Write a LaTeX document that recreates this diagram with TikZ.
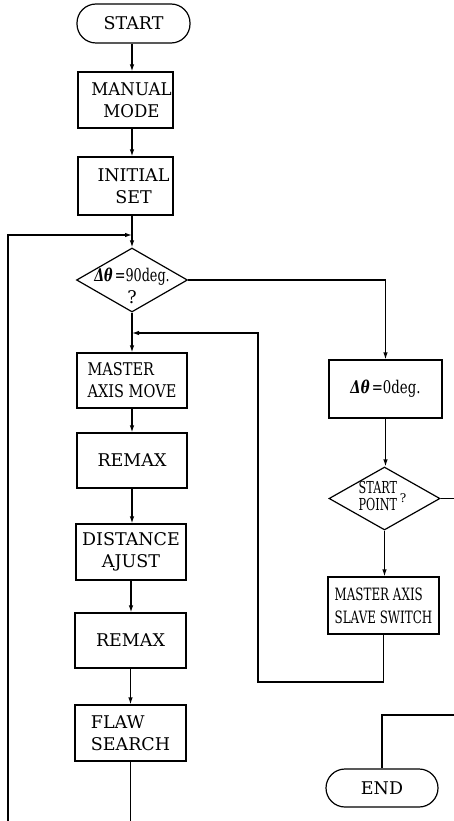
\documentclass[tikz,border=0pt]{standalone}
\usepackage{graphicx}
\usepackage{fontspec}
\setmainfont{DejaVu Serif}
\usetikzlibrary{shapes.geometric,arrows.meta}
\newcommand{\dth}{{\bfseries\itshape Δθ}}
\begin{document}
\begin{tikzpicture}[x=1pt,y=-1pt,
  tx/.style={font=\fontsize{17.5}{22}\selectfont, align=center},
  box/.style={draw, line width=1.2pt, rectangle, inner sep=0pt, tx},
  term/.style={box, rounded corners=19pt},
  dia/.style={draw, line width=1.2pt, diamond, inner sep=0pt},
  ln/.style={line width=1.2pt},
  arr/.style={ln, -{Latex[length=7pt,width=4.5pt]}}]
\useasboundingbox (0,0) rectangle (454,821);
\coordinate (colA) at (132,0);
% left column
\node[term, minimum width=113, minimum height=39] (start) at (133.5,23.5) {START};
\node[box, minimum width=95, minimum height=56,
  label={[tx, xshift=6pt]center:\scalebox{0.95}[1]{MANUAL}\\\scalebox{0.95}[1]{MODE}}] (manual) at (125.5,100) {};
\node[box, minimum width=95, minimum height=58,
  label={[tx, xshift=8pt]center:INITIAL\\SET}] (initial) at (125.5,186) {};
\node[dia, minimum width=111, minimum height=64,
  label={[tx, yshift=-6pt]center:{\scalebox{0.73}[1]{\dth\,=90deg.}}\\?}] (d1) at (132,280) {};
\node[box, align=left, minimum width=110, minimum height=55] (mam) at (132,380.5) {\scalebox{0.83}[1]{MASTER}\\\scalebox{0.83}[1]{AXIS\ MOVE}};
\node[box, minimum width=110, minimum height=55] (remaxa) at (132,460.5) {REMAX};
\node[box, minimum width=110, minimum height=56] (dist) at (131,552) {DISTANCE\\AJUST};
\node[box, minimum width=111, minimum height=55] (remaxb) at (130.5,640.5) {REMAX};
\node[box, align=left, minimum width=111, minimum height=56] (flaw) at (130.5,733) {FLAW\\SEARCH};
% right column
\node[box, minimum width=113, minimum height=58] (dzero) at (385.5,389) {\scalebox{0.76}[1]{\dth\,=0deg.}};
\node[dia, minimum width=111, minimum height=63,
  label={[font=\fontsize{16.5}{16.5}\selectfont, xshift=-2pt]center:\begin{tabular}{@{}c@{}}\scalebox{0.68}[1]{START}\\\scalebox{0.68}[1]{POINT}\end{tabular}\,{\fontsize{12}{12}\selectfont ?}}] (d2) at (384.5,498.5) {};
\node[box, align=left, minimum width=111, minimum height=57, font=\fontsize{17}{23}\selectfont] (slave) at (383.5,605.5)
  {\scalebox{0.7}[1]{MASTER\ AXIS}\\\scalebox{0.7}[1]{SLAVE\ SWITCH}};
\node[term, minimum width=112, minimum height=38] (end) at (382,788) {END};
% junction / free-end coordinates
\coordinate (jn1) at (132,235);
\coordinate (jn2) at (132,333);
\coordinate (loopbot) at (8,821);
\coordinate (back) at (258,682);
\coordinate (exitR) at (454,498.5);
\coordinate (entR) at (454,715);
\coordinate (flawbot) at (130.5,821);
% connectors
\draw[arr] (start.south -| colA) -- (manual.north -| colA);
\draw[arr] (manual.south -| colA) -- (initial.north -| colA);
\draw[arr] (initial.south -| colA) -- (d1.north);
\draw[arr] (loopbot) |- (jn1);
\draw[arr] (d1.south) -- (mam.north);
\draw[arr] (mam.south) -- (remaxa.north);
\draw[arr] (remaxa.south) -- (dist.north -| remaxa.south);
\draw[arr] (dist.south) -- (remaxb.north -| dist.south);
\draw[arr] (remaxb.south) -- (flaw.north);
\draw[ln] (flaw.south) -- (flawbot);
\draw[arr] (d1.east) -| (dzero.north);
\draw[arr] (dzero.south) -- (d2.north -| dzero.south);
\draw[arr] (d2.south) -- (slave.north -| d2.south);
\draw[arr] (slave.south) |- (back) |- (jn2);
\draw[ln] (d2.east) -- (exitR);
\draw[ln] (entR) -| (end.north);
\end{tikzpicture}
\end{document}
